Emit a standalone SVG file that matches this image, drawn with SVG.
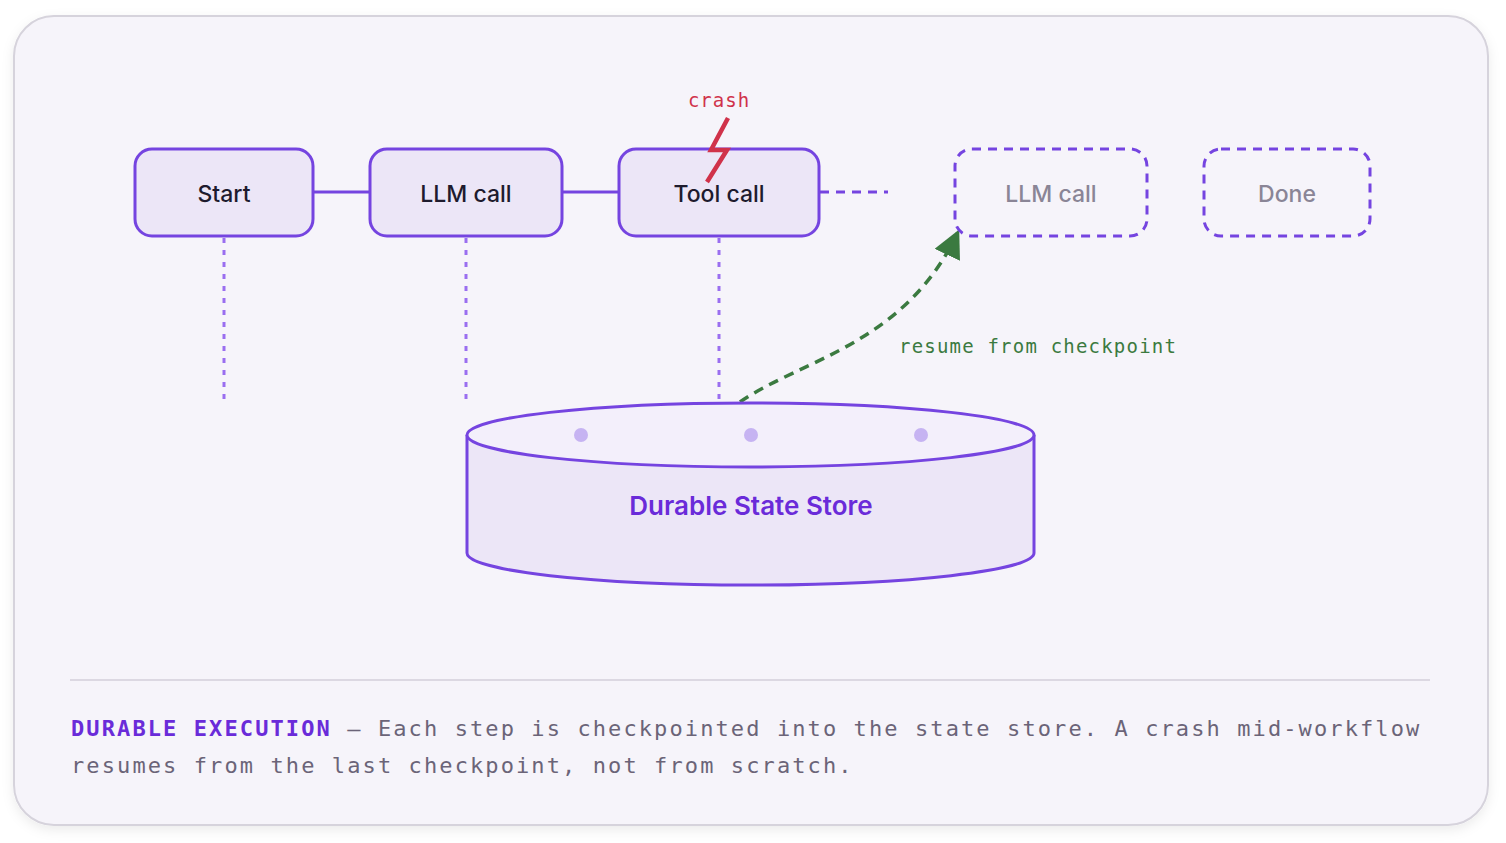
<svg xmlns="http://www.w3.org/2000/svg" width="1506" height="843" viewBox="0 0 1506 843">
<defs>
<style>
.box{fill:#ece6f7;stroke:#7544e0;stroke-width:3}
.ghost{fill:none;stroke:#7544e0;stroke-width:3;stroke-dasharray:9 7}
.lbl{font-family:Inter,"Noto Sans",sans-serif;font-size:23px;font-weight:500;fill:#1e1b2e;text-anchor:middle}
.glbl{font-family:Inter,"Noto Sans",sans-serif;font-size:23px;font-weight:500;fill:#8a8596;text-anchor:middle}
.mono{font-family:"DejaVu Sans Mono",monospace}
.vdot{stroke:#9a6ef0;stroke-width:3;stroke-dasharray:5 7;fill:none}
</style>
<filter id="sh" x="-5%" y="-5%" width="110%" height="115%"><feDropShadow dx="0" dy="4" stdDeviation="6" flood-color="#000" flood-opacity="0.08"/></filter>
<marker id="ga" viewBox="0 0 10 10" refX="9" refY="5" markerWidth="8" markerHeight="8" orient="auto" markerUnits="strokeWidth"><path d="M0,0L10,5L0,10z" fill="#3b7a40"/></marker>
</defs>
<rect width="1506" height="843" fill="#ffffff"/>
<rect x="14" y="16" width="1474" height="809" rx="40" fill="#f6f4fa" stroke="#d6d3dc" stroke-width="2" filter="url(#sh)"/>
<g id="connectors">
<line x1="313" y1="192" x2="370" y2="192" stroke="#7544e0" stroke-width="3"/>
<line x1="562" y1="192" x2="619" y2="192" stroke="#7544e0" stroke-width="3"/>
<line x1="820" y1="192" x2="888" y2="192" stroke="#7544e0" stroke-width="3" stroke-dasharray="9 7"/>
<line class="vdot" x1="224" y1="238" x2="224" y2="400"/>
<line class="vdot" x1="466" y1="238" x2="466" y2="400"/>
<line class="vdot" x1="719" y1="238" x2="719" y2="400"/>
<path d="M740,402 C800,360 905,345 958,232" fill="none" stroke="#3b7a40" stroke-width="3.5" stroke-dasharray="10 7" marker-end="url(#ga)"/>
<text class="mono" x="899" y="353" font-size="19" letter-spacing="1.2" fill="#3b7a40">resume from checkpoint</text>
</g>
<g id="start"><rect class="box" x="135" y="149" width="178" height="87" rx="17"/><text class="lbl" x="224" y="202">Start</text></g>
<g id="llm1"><rect class="box" x="370" y="149" width="192" height="87" rx="17"/><text class="lbl" x="466" y="202">LLM call</text></g>
<g id="tool"><rect class="box" x="619" y="149" width="200" height="87" rx="17"/><text class="lbl" x="719" y="202">Tool call</text></g>
<g id="crash">
<text class="mono" x="719" y="107" font-size="19" letter-spacing="1" fill="#d0324a" text-anchor="middle">crash</text>
<polyline points="728,118 711,150 727,150 707,182" fill="none" stroke="#d0324a" stroke-width="4.5"/>
</g>
<g id="llm2"><rect class="ghost" x="955" y="149" width="192" height="87" rx="17"/><text class="glbl" x="1051" y="202">LLM call</text></g>
<g id="done"><rect class="ghost" x="1204" y="149" width="166" height="87" rx="17"/><text class="glbl" x="1287" y="202">Done</text></g>
<g id="store">
<path d="M467,435 L467,553 A283,32 0 0 0 1034,553 L1034,435" fill="#ece6f7" stroke="#7544e0" stroke-width="3"/>
<ellipse cx="750.5" cy="435" rx="283.5" ry="32" fill="#f3effb" stroke="#7544e0" stroke-width="3"/>
<circle cx="581" cy="435" r="7" fill="#c6b3f2"/>
<circle cx="751" cy="435" r="7" fill="#c6b3f2"/>
<circle cx="921" cy="435" r="7" fill="#c6b3f2"/>
<text x="751" y="515" font-family="Inter,'Noto Sans',sans-serif" font-size="26" font-weight="600" fill="#6a2bd9" text-anchor="middle">Durable State Store</text>
</g>
<line x1="70" y1="680" x2="1430" y2="680" stroke="#dcd8e2" stroke-width="2"/>
<g id="caption" class="mono" font-size="22" letter-spacing="2.1" fill="#6b6478">
<text x="71" y="736"><tspan fill="#6a2bd9" font-weight="bold">DURABLE EXECUTION</tspan> — Each step is checkpointed into the state store. A crash mid-workflow</text>
<text x="71" y="773">resumes from the last checkpoint, not from scratch.</text>
</g>
</svg>
